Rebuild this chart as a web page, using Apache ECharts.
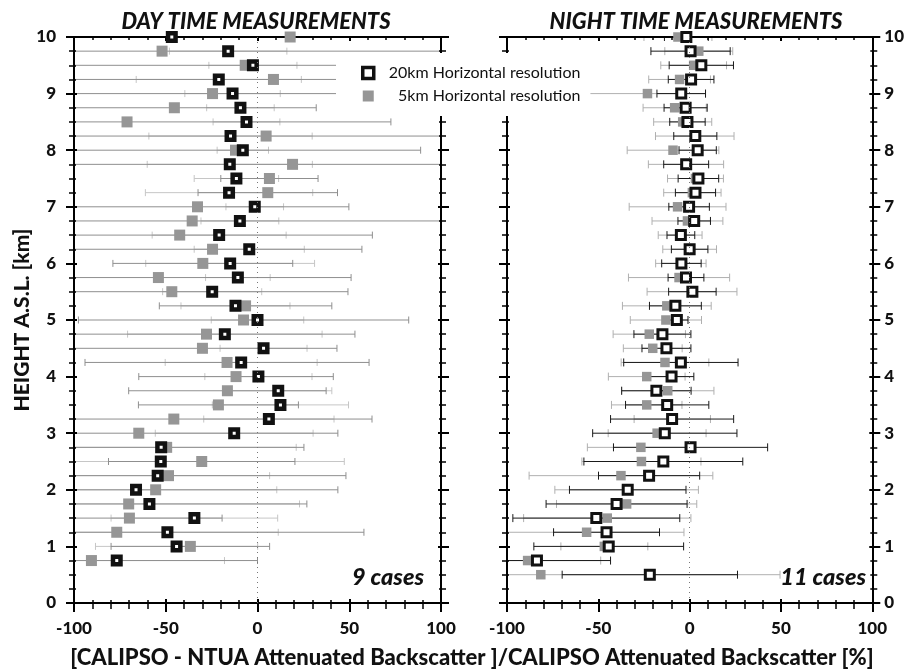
<!DOCTYPE html>
<html>
<head>
<meta charset="utf-8">
<script src="https://cdn.jsdelivr.net/npm/echarts@6/dist/echarts.min.js"></script>
<style>
  html, body { margin: 0; padding: 0; background: #fff; }
  #chart { width: 907px; height: 671px; }
</style>
</head>
<body>
<div id="chart"></div>
<script>
// heights [km], top to bottom
const dayHeights = [10, 9.75, 9.5, 9.25, 9, 8.75, 8.5, 8.25, 8, 7.75, 7.5, 7.25, 7, 6.75, 6.5, 6.25, 6, 5.75, 5.5, 5.25, 5, 4.75, 4.5, 4.25, 4, 3.75, 3.5, 3.25, 3, 2.75, 2.5, 2.25, 2, 1.75, 1.5, 1.25, 1, 0.75];
const nightHeights = [10, 9.75, 9.5, 9.25, 9, 8.75, 8.5, 8.25, 8, 7.75, 7.5, 7.25, 7, 6.75, 6.5, 6.25, 6, 5.75, 5.5, 5.25, 5, 4.75, 4.5, 4.25, 4, 3.75, 3.5, 3.25, 3, 2.75, 2.5, 2.25, 2, 1.75, 1.5, 1.25, 1, 0.75, 0.5];

// day time, relative difference [%] and its deviation
const day20 = [-46.7, -16, -2.5, -21.1, -13.6, -9.3, -6, -14.7, -8, -15.1, -11.5, -15.5, -1.5, -9.6, -20.9, -4.5, -14.9, -10.7, -24.7, -12, 0, -17.8, 3.3, -8.9, 0.5, 11.3, 12.5, 6.2, -12.7, -52.5, -52.7, -54.4, -66.2, -58.9, -34.4, -49.1, -44.1, -76.7];
const day20Err = [0, 32, 24, 45, 26, 18.4, 18.2, 44.5, 14, 45, 23, 45.6, 15.7, 21.2, 36.5, 30, 46, 17.6, 27, 29.7, 25.2, 53, 23.7, 41.4, 29.2, 29.2, 37.1, 35.5, 43, 73.6, 100, 61, 76.7, 81.8, 45.4, 60.4, 44.2, 58.7];
const day5 = [17.8, -52, -6.7, 8.7, -24.5, -45.3, -71.1, 4.7, -12, 19.1, 6.5, 5.6, -32.7, -35.6, -42.4, -24.5, -29.8, -54, -46.7, -6.5, -7.6, -27.8, -30, -16.6, -11.7, -16.4, -21.3, -45.6, -64.7, -49.5, -30.4, -48.5, -55.5, -70.2, -69.8, -76.7, -36.6, -90.5];
const day5Err = [0, 160, 100, 115, 85, 77.3, 143.8, 110, 100.9, 130, 26.5, 38, 82.5, 140, 105, 81.4, 49, 105, 96, 47, 90, 80.9, 73.3, 77.4, 53, 53.8, 43.6, 108, 108.5, 74.8, 50.8, 96.7, 99.3, 97.1, 50.5, 134.7, 43.2, 90.5];

// night time
const night20 = [-1.8, 0.5, 6.4, 0.8, -4.6, -2.2, -1.2, 3.1, 4.4, -1.9, 4.8, 3.2, -0.3, 2.5, -4.8, 0, -4.5, -2, 1.5, -7.8, -7, -14.9, -12.7, -4.8, -9.9, -18.2, -12.3, -9.6, -13.6, 0.5, -14.4, -22.2, -33.9, -40, -51.1, -45.5, -44.3, -83.6, -21.8];
const night20Err = [12, 21.7, 17.6, 12.5, 13.3, 11.8, 9.7, 11.8, 10.2, 12.3, 11.1, 11, 11.1, 8.9, 7.6, 10, 10.8, 9.8, 13, 14.2, 6.1, 15.6, 13.4, 31.3, 12.2, 19, 22.8, 33.7, 39.5, 42.2, 43.5, 27.7, 31.9, 38.6, 45.7, 29, 41, 40.3, 48];
const night5 = [-6.4, 5, 2.2, -5.5, -23.1, -8.2, -3.8, 2.8, -9.1, -2, 3.2, 1.5, -6.6, -1.2, -5.2, 0, -4.8, -5.8, 1.3, -12.5, -13, -22.1, -20.2, -13.5, -23.5, -12, -23.5, -9.5, -17.8, -26.7, -26.4, -37.6, -34.5, -34.5, -45.1, -56.4, -46.7, -88.7, -81.5];
const night5Err = [18.6, 18.6, 18, 16.9, 31.8, 17.3, 15.9, 21.5, 25.1, 20.6, 15.3, 15.7, 26.5, 19.4, 12, 14.7, 13.8, 27.7, 24.6, 24.3, 19.5, 19.8, 16.1, 24, 21, 25.3, 19.3, 20.9, 26.8, 29.3, 32.6, 50.3, 39.3, 38.4, 45.8, 53.3, 23.8, 40, 131];

const NAME20 = '20km Horizontal resolution';
const NAME5 = '5km Horizontal resolution';
const FONT = 'Lato';

const chart = echarts.init(document.getElementById('chart'));

const tickLabel = { color: '#111', fontSize: 17, fontWeight: 900, fontFamily: FONT };

function xAxisOf(grid, position, inside, labels) {
  return {
    gridIndex: grid,
    type: 'value',
    position: position,
    min: -100,
    max: 100,
    interval: 50,
    z: 3,
    axisLine: { show: true, onZero: false, lineStyle: { color: '#000', width: 2 } },
    axisTick: { show: true, inside: inside, length: inside ? 4 : 9, lineStyle: { color: '#000', width: 2 } },
    minorTick: { show: true, splitNumber: 5, length: inside ? 3 : 6, lineStyle: { color: '#000', width: 1.5 } },
    axisLabel: Object.assign({ show: labels, margin: 17 }, tickLabel),
    splitLine: { show: false },
  };
}

function yAxisOf(grid, position, inside, labels, name) {
  return {
    gridIndex: grid,
    type: 'value',
    position: position,
    min: 0,
    max: 10,
    interval: 1,
    z: 3,
    name: name || '',
    nameLocation: 'middle',
    nameGap: 40,
    nameRotate: 90,
    nameTextStyle: { color: '#111', fontSize: 21, fontWeight: 900, fontFamily: FONT },
    axisLine: { show: true, onZero: false, lineStyle: { color: '#000', width: 2 } },
    axisTick: { show: true, inside: inside, length: inside ? 3 : 8, lineStyle: { color: '#000', width: 2 } },
    minorTick: { show: true, splitNumber: 4, length: inside ? 2 : 5, lineStyle: { color: '#000', width: 1.5 } },
    axisLabel: Object.assign({ show: labels, margin: position === 'left' ? 18 : 12 }, tickLabel),
    splitLine: { show: false },
  };
}

function errorSeries(xIdx, yIdx, heights, vals, errs, color, capH, z) {
  return {
    type: 'custom',
    xAxisIndex: xIdx,
    yAxisIndex: yIdx,
    clip: true,
    silent: true,
    z: z,
    encode: { x: 0, y: 2 },
    data: heights.map((h, i) => [vals[i], errs[i], h]),
    renderItem: (params, api) => {
      const v = api.value(0);
      const e = api.value(1);
      const h = api.value(2);
      if (!e) return;
      const a = api.coord([v - e, h]);
      const b = api.coord([v + e, h]);
      const st = { stroke: color, lineWidth: 1 };
      return {
        type: 'group',
        children: [
          { type: 'line', shape: { x1: a[0], y1: a[1], x2: b[0], y2: b[1] }, style: st },
          { type: 'line', shape: { x1: a[0], y1: a[1] - capH, x2: a[0], y2: a[1] + capH }, style: st },
          { type: 'line', shape: { x1: b[0], y1: b[1] - capH, x2: b[0], y2: b[1] + capH }, style: st },
        ],
      };
    },
  };
}

function pointSeries(name, xIdx, yIdx, heights, vals, size, style, z) {
  return {
    name: name,
    type: 'scatter',
    xAxisIndex: xIdx,
    yAxisIndex: yIdx,
    symbol: 'rect',
    symbolSize: size,
    z: z,
    clip: false,
    itemStyle: style,
    emphasis: { disabled: true },
    data: heights.map((h, i) => [vals[i], h]),
  };
}

const black20Left = { color: '#fff', borderColor: '#111', borderWidth: 4.5, opacity: 1 };
const black20Right = { color: '#fff', borderColor: '#111', borderWidth: 3, opacity: 1 };
const gray5 = { color: '#969696', opacity: 1 };

const zeroLine = {
  silent: true,
  symbol: 'none',
  label: { show: false },
  lineStyle: { color: '#777', type: [1, 4], width: 1 },
  data: [{ xAxis: 0 }],
};

const titleStyle = { fontSize: 22, fontWeight: 900, fontStyle: 'italic', color: '#111', fontFamily: FONT };

const option = {
  animation: false,
  textStyle: { fontFamily: FONT },
  grid: [
    { left: 74, top: 37, width: 367, height: 566 },
    { left: 507, top: 37, width: 366, height: 566 },
  ],
  xAxis: [
    xAxisOf(0, 'bottom', false, true),
    xAxisOf(0, 'bottom', true, false),
    xAxisOf(0, 'top', true, false),
    xAxisOf(1, 'bottom', false, true),
    xAxisOf(1, 'bottom', true, false),
    xAxisOf(1, 'top', true, false),
  ],
  yAxis: [
    yAxisOf(0, 'left', false, true, 'HEIGHT A.S.L. [km]'),
    yAxisOf(0, 'left', true, false),
    yAxisOf(0, 'right', false, false),
    yAxisOf(0, 'right', true, false),
    yAxisOf(1, 'left', false, false),
    yAxisOf(1, 'left', true, false),
    yAxisOf(1, 'right', false, true),
    yAxisOf(1, 'right', true, false),
  ],
  title: [
    { text: 'DAY TIME MEASUREMENTS', left: 251, top: 6, textAlign: 'center', textStyle: titleStyle },
    { text: 'NIGHT TIME MEASUREMENTS', left: 691, top: 6, textAlign: 'center', textStyle: titleStyle },
    { text: '[CALIPSO - NTUA Attenuated Backscatter ]/CALIPSO Attenuated Backscatter [%]', left: 467, top: 642, textAlign: 'center',
      textStyle: { fontSize: 22, fontWeight: 900, color: '#111', fontFamily: FONT } },
  ],
  legend: {
    orient: 'vertical',
    left: 336,
    top: 53,
    padding: [12, 10, 12, 25],
    itemGap: 7,
    itemWidth: 11,
    itemHeight: 11,
    backgroundColor: '#fff',
    z: 5,
    selectedMode: false,
    textStyle: { color: '#111', fontSize: 16, fontFamily: FONT, padding: [0, 0, 0, 10] },
    formatter: (name) => (name === NAME5 ? '\u2007' + name : name),
    data: [
      { name: NAME20, icon: 'rect', itemStyle: { color: '#fff', borderColor: '#111', borderWidth: 3.5 } },
      { name: NAME5, icon: 'rect', itemStyle: { color: '#969696', borderWidth: 0 } },
    ],
  },
  graphic: [
    { type: 'text', right: 907 - 424, top: 566, z: 10,
      style: { text: '9 cases', fill: '#111', font: 'italic 900 23.5px Lato' } },
    { type: 'text', right: 907 - 866, top: 566, z: 10,
      style: { text: '11 cases', fill: '#111', font: 'italic 900 23.5px Lato' } },
  ],
  series: [
    // day panel
    Object.assign(errorSeries(0, 0, dayHeights, day20, day20Err, '#c6c6c6', 3.5, 2), { markLine: zeroLine }),
    errorSeries(0, 0, dayHeights, day5, day5Err, '#8f8f8f', 3.5, 2.1),
    pointSeries(NAME5, 0, 0, dayHeights, day5, 11, gray5, 4),
    pointSeries(NAME20, 0, 0, dayHeights, day20, 7.5, black20Left, 4.1),
    // night panel
    Object.assign(errorSeries(3, 4, nightHeights, night5, night5Err, '#b0b0b0', 4, 2), { markLine: zeroLine }),
    errorSeries(3, 4, nightHeights, night20, night20Err, '#1a1a1a', 4, 2.1),
    pointSeries(NAME5, 3, 4, nightHeights, night5, 9.5, gray5, 4),
    pointSeries(NAME20, 3, 4, nightHeights, night20, 9, black20Right, 4.1),
  ],
};

chart.setOption(option);
</script>
</body>
</html>
